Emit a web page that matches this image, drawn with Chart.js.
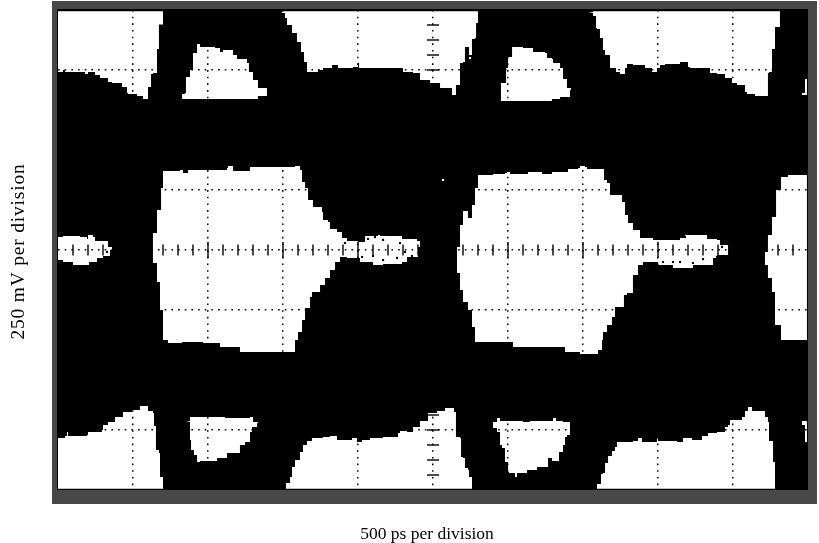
<!DOCTYPE html>
<html>
<head>
<meta charset="utf-8">
<title>Eye diagram</title>
<script src="https://cdn.jsdelivr.net/npm/chart.js@4"></script>
<style>
  html, body { margin: 0; padding: 0; background: #ffffff; }
  canvas { display: block; }
</style>
</head>
<body>
<canvas id="chartCanvas" width="819" height="543"></canvas>
<script>
// open areas of the eye, each one a closed outline of [time in ps, level in mV]
const topLeft = [[0,995],[700,995],[700,940],[680,940],[673,838],[660,838],[660,738],[633,733],[620,733],[620,679],[600,679],[600,629],[567,642],[527,650],[467,654],[460,679],[433,679],[427,696],[360,700],[333,717],[280,729],[247,742],[200,733],[180,742],[47,750],[33,742],[0,742]];
const topIsland1 = [[927,858],[947,846],[1047,842],[1080,825],[1100,833],[1153,833],[1167,813],[1193,796],[1260,779],[1273,742],[1300,708],[1333,675],[1393,642],[1333,629],[833,629],[827,650],[847,654],[853,721],[880,750],[900,821],[927,833]];
const topMiddle = [[1460,995],[1493,988],[1513,967],[1527,938],[1560,904],[1593,867],[1620,825],[1640,783],[1660,742],[1733,750],[1767,758],[1827,771],[1867,758],[1967,763],[2000,779],[2007,758],[2100,758],[2260,758],[2300,742],[2367,738],[2413,708],[2480,696],[2547,675],[2627,646],[2653,629],[2653,688],[2680,696],[2680,779],[2700,783],[2713,846],[2733,846],[2740,813],[2760,813],[2760,879],[2780,883],[2787,946],[2800,950],[2800,995]];
const topIsland2 = [[3027,846],[3100,842],[3167,825],[3247,821],[3260,800],[3293,796],[3300,779],[3347,758],[3367,712],[3393,675],[3420,667],[3413,638],[3347,629],[3293,621],[2953,629],[2953,696],[2987,700],[2987,758],[3000,804],[3027,833]];
const topRight = [[3533,992],[3567,995],[4813,995],[4813,929],[4787,929],[4780,838],[4760,838],[4760,742],[4740,738],[4733,642],[4700,642],[4647,650],[4593,658],[4580,688],[4527,696],[4493,717],[4447,733],[4393,738],[4347,758],[4280,758],[4213,763],[4200,783],[4147,783],[4147,775],[4047,771],[4013,758],[3993,742],[3960,758],[3913,771],[3833,775],[3793,758],[3780,733],[3747,742],[3720,758],[3680,771],[3680,813],[3647,833],[3633,883],[3613,921],[3593,925],[3587,975],[3567,988]];
const topSliver = [[4980,712],[4993,712],[4993,646],[4960,646],[4960,654],[4980,654]];

const midLeft = [[0,54],[33,58],[147,54],[193,46],[200,63],[233,54],[247,38],[327,38],[333,13],[360,0],[347,-25],[300,-33],[260,-50],[213,-50],[207,-63],[160,-63],[100,-50],[33,-42],[0,-42]];
const eye1 = [[700,329],[813,333],[833,321],[867,333],[1127,342],[1133,350],[1167,329],[1200,329],[1280,346],[1580,350],[1613,333],[1627,283],[1647,258],[1667,208],[1700,179],[1760,158],[1767,125],[1800,117],[1813,88],[1860,75],[1893,50],[1927,38],[2000,33],[2047,58],[2133,63],[2147,83],[2147,58],[2267,58],[2293,46],[2393,38],[2413,13],[2400,-29],[2327,-50],[2293,-58],[2167,-63],[2100,-50],[2013,-33],[1927,-29],[1880,-50],[1847,-83],[1813,-117],[1780,-146],[1747,-175],[1693,-196],[1680,-242],[1647,-292],[1627,-342],[1600,-375],[1580,-425],[1327,-425],[1213,-404],[1080,-388],[967,-383],[827,-388],[733,-375],[700,-342],[700,-250],[680,-229],[680,-133],[660,-117],[660,-54],[633,-42],[633,71],[660,83],[660,167],[687,175],[687,258],[700,263]];
const eye2 = [[2800,313],[2900,317],[2980,321],[2993,325],[3013,317],[3127,317],[3133,325],[3193,325],[3227,317],[3293,325],[3400,338],[3467,342],[3480,350],[3513,346],[3527,338],[3633,338],[3640,292],[3660,279],[3680,229],[3760,200],[3780,146],[3800,113],[3833,83],[3880,50],[3967,42],[4000,42],[4147,50],[4180,63],[4327,46],[4393,42],[4413,21],[4467,-21],[4393,-33],[4367,-63],[4233,-75],[4100,-63],[4000,-50],[3900,-63],[3867,-104],[3833,-133],[3833,-179],[3793,-188],[3773,-238],[3713,-279],[3693,-313],[3660,-342],[3633,-375],[3627,-417],[3600,-433],[3527,-433],[3480,-425],[3393,-425],[3380,-404],[3167,-404],[3033,-383],[2780,-383],[2780,-321],[2760,-313],[2760,-250],[2733,-217],[2700,-208],[2700,-167],[2680,-138],[2680,-96],[2660,-75],[2660,13],[2680,29],[2680,104],[2700,113],[2700,163],[2733,167],[2733,133],[2760,133],[2760,188],[2780,196],[2780,258],[2800,271]];
const eye3 = [[4820,304],[4867,313],[4993,313],[4993,-375],[4820,-375],[4820,-313],[4787,-313],[4780,-175],[4760,-117],[4733,-63],[4713,-50],[4713,-8],[4733,8],[4733,63],[4760,104],[4760,138],[4787,154],[4787,250],[4820,258]];

const bottomLeft = [[0,-783],[47,-775],[60,-758],[67,-775],[193,-771],[200,-758],[293,-750],[300,-729],[333,-717],[380,-696],[433,-675],[493,-667],[547,-650],[600,-671],[633,-679],[640,-733],[653,-833],[673,-846],[680,-946],[700,-946],[700,-995],[0,-995]];
const bottomIsland1 = [[853,-713],[880,-696],[1113,-700],[1233,-700],[1280,-696],[1300,-717],[1333,-721],[1327,-738],[1293,-758],[1280,-800],[1247,-813],[1213,-846],[1127,-867],[1060,-879],[947,-883],[927,-854],[907,-833],[887,-792],[880,-742],[880,-717]];
const bottomMiddle = [[1520,-995],[1520,-971],[1547,-946],[1560,-904],[1580,-875],[1613,-842],[1633,-813],[1660,-796],[1693,-783],[1767,-779],[1813,-775],[1860,-792],[1960,-783],[1993,-800],[2027,-792],[2067,-792],[2080,-783],[2167,-779],[2267,-763],[2280,-754],[2327,-758],[2367,-738],[2413,-713],[2467,-679],[2527,-671],[2580,-658],[2633,-658],[2640,-675],[2653,-779],[2680,-783],[2687,-863],[2700,-867],[2713,-908],[2733,-917],[2740,-946],[2760,-950],[2760,-995]];
const bottomIsland2 = [[2900,-717],[2927,-700],[2947,-713],[3100,-717],[3147,-713],[3293,-713],[3300,-700],[3320,-713],[3367,-717],[3413,-729],[3413,-771],[3393,-779],[3380,-813],[3367,-842],[3340,-879],[3293,-867],[3267,-904],[3193,-917],[3127,-929],[3067,-929],[3060,-946],[3047,-929],[3007,-925],[3000,-883],[2980,-825],[2960,-813],[2947,-758],[2927,-742],[2900,-738]];
const bottomRight = [[3593,-995],[3593,-975],[3620,-971],[3620,-933],[3633,-929],[3647,-888],[3667,-858],[3693,-838],[3713,-821],[3727,-800],[3767,-800],[3833,-796],[3867,-783],[3893,-800],[3960,-800],[3993,-783],[4000,-796],[4127,-800],[4167,-783],[4227,-792],[4293,-775],[4333,-763],[4393,-758],[4447,-738],[4467,-729],[4480,-708],[4560,-696],[4580,-671],[4600,-654],[4627,-671],[4693,-671],[4713,-696],[4733,-717],[4740,-796],[4767,-800],[4767,-883],[4780,-888],[4780,-995]];
const bottomSliver = [[4960,-713],[4993,-713],[4993,-800],[4980,-800],[4980,-729],[4960,-729]];

const openAreas = [topLeft, topIsland1, topMiddle, topIsland2, topRight, topSliver,
    midLeft, eye1, eye2, eye3,
    bottomLeft, bottomIsland1, bottomMiddle, bottomIsland2, bottomRight, bottomSliver];

// single white hits outside the open areas, black hits inside the tails
const strayHits = [[2567,292],[2747,800]];
const tailHits = [[2067,46],[2113,54],[2167,42],[1913,29],[2100,-25],[2167,-42],[2260,-33],[2360,-25],[2313,-8],[2027,-29],[327,-8],[2280,29],
    [4180,54],[4147,-50],[4100,-50],[4233,-54],[4300,-38],[4427,13],[4393,-29],[4033,-50]];

// graticule marks along the centre lines
const minorTimes = [100,200,300,400,600,700,800,900,1100,1200,1300,1400,1600,1700,1800,1900,2100,2200,2300,2400,2600,2700,2800,2900,3100,3200,3300,3400,3600,3700,3800,3900,4100,4200,4300,4400,4600,4700,4800,4900];
const majorTimes = [500,1000,1500,2000,2500,3000,3500,4000,4500];
const levelMarks = [-937.5,-875,-812.5,-750,-687.5,-625,-562.5,-500,-437.5,-375,-312.5,-250,-187.5,-125,-62.5,62.5,125,187.5,250,312.5,375,437.5,500,562.5,625,687.5,750,812.5,875,937.5];

const toPoints = pairs => pairs.map(p => ({ x: p[0], y: p[1] }));

const markDataset = (points, rotation, radius) => ({
    data: points,
    showLine: false,
    pointStyle: 'line',
    pointRotation: rotation,
    pointRadius: radius,
    pointBorderColor: '#000000',
    pointBorderWidth: 1.4,
    order: 0
});

const hitDataset = (pairs, color) => ({
    data: toPoints(pairs),
    showLine: false,
    pointStyle: 'rect',
    pointRadius: 1.5,
    pointBackgroundColor: color,
    pointBorderWidth: 0,
    order: 1
});

const datasets = [
    markDataset(minorTimes.map(t => ({ x: t, y: 0 })), 90, 5.5),
    markDataset(majorTimes.map(t => ({ x: t, y: 0 })), 90, 8),
    markDataset(levelMarks.map(v => ({ x: 2500, y: v })), 0, 6),
    hitDataset(strayHits, '#ffffff'),
    hitDataset(tailHits, '#000000')
];
openAreas.forEach(area => {
    datasets.push({
        data: toPoints(area),
        stepped: true,
        fill: 'shape',
        backgroundColor: '#ffffff',
        borderColor: '#ffffff',
        borderWidth: 0,
        pointRadius: 0,
        order: 2
    });
});

// grey scope bezel and black screen behind the traces
const screenPlugin = {
    id: 'screen',
    beforeDraw(chart) {
        const { ctx, chartArea } = chart;
        ctx.save();
        ctx.fillStyle = '#484848';
        ctx.fillRect(chartArea.left - 6, chartArea.top - 9, chartArea.width + 15, chartArea.height + 23);
        ctx.fillStyle = '#000000';
        ctx.fillRect(chartArea.left - 1, chartArea.top - 1, chartArea.width + 1, chartArea.height + 1);
        ctx.restore();
    }
};

const hideEdge = (limit) => (c) => Math.abs(c.tick.value) === limit || c.tick.value === 0 && limit === 5000 ? 'rgba(0,0,0,0)' : '#000000';

// the axis captions in the scan are off centre and the vertical one runs long
const nudgeTitle = (dx, dy, spacing) => (scale) => {
    const drawTitle = Object.getPrototypeOf(scale).drawTitle;
    scale.drawTitle = function () {
        const c = this.ctx;
        c.save();
        c.translate(dx, dy);
        c.letterSpacing = spacing;
        drawTitle.call(this);
        c.restore();
    };
};

const ctx = document.getElementById("chartCanvas").getContext("2d");
new Chart(ctx, {
    type: 'line',
    data: { datasets },
    plugins: [screenPlugin],
    options: {
        responsive: false,
        animation: false,
        layout: { padding: { left: 7, right: 11, top: 10, bottom: 2 } },
        plugins: { legend: { display: false }, tooltip: { enabled: false } },
        scales: {
            x: {
                type: 'linear',
                min: 0,
                max: 5000,
                afterFit(scale) { scale.height = 51; },
                afterUpdate: nudgeTitle(-6, 4, '0px'),
                ticks: { stepSize: 500, display: false },
                border: { display: false, dash: [1.6, 5.07], dashOffset: 0 },
                grid: { color: hideEdge(5000), lineWidth: 1.5, drawTicks: false, z: 1 },
                title: { display: true, text: '500 ps per division', color: '#000000', padding: 0, font: { family: '"Liberation Serif"', size: 17.5 } }
            },
            y: {
                type: 'linear',
                min: -1000,
                max: 1000,
                afterFit(scale) { scale.width = 51; },
                afterUpdate: nudgeTitle(0, 1.5, '0.8px'),
                ticks: { stepSize: 250, display: false },
                border: { display: false, dash: [1.6, 5.07], dashOffset: 0 },
                grid: { color: hideEdge(1000), lineWidth: 1.5, drawTicks: false, z: 1 },
                title: { display: true, text: '250 mV per division', color: '#000000', padding: 0, font: { family: '"Liberation Serif"', size: 19.5 } }
            }
        }
    }
});
</script>
</body>
</html>
